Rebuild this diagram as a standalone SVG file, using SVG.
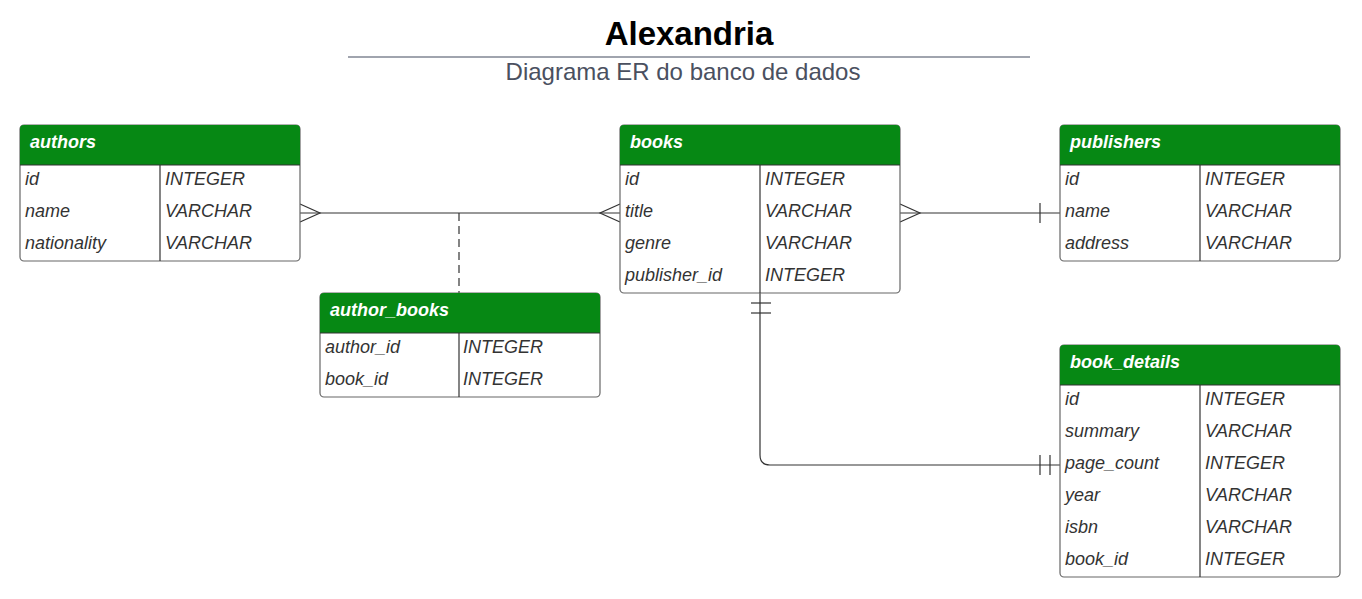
<svg xmlns="http://www.w3.org/2000/svg" width="1362" height="599" viewBox="0 0 1362 599">
<style>
.title{font-family:"Liberation Sans",Arial,sans-serif;font-size:33px;font-weight:bold;fill:#000;text-anchor:middle}
.sub{font-family:"Liberation Sans",Arial,sans-serif;font-size:24px;fill:#4a5060;text-anchor:middle}
.box{fill:#fff;stroke:#666;stroke-width:1.2}
.hdr{fill:#068814}
.hline{stroke:#333;stroke-width:1.2}
.ht{font-family:"Liberation Sans",Arial,sans-serif;font-size:18px;font-weight:bold;font-style:italic;fill:#fff}
.ft{font-family:"Liberation Sans",Arial,sans-serif;font-size:18px;font-style:italic;fill:#333}
.conn{fill:none;stroke:#333;stroke-width:1.2}
</style>
<rect width="1362" height="599" fill="#fff"/>
<text class="title" x="689" y="45">Alexandria</text>
<line x1="348" y1="57" x2="1030" y2="57" stroke="#a0a4ae" stroke-width="2"/>
<text class="sub" x="683" y="80">Diagrama ER do banco de dados</text>

<g id="connectors">
<line class="conn" x1="300" y1="213" x2="620" y2="213"/>
<path class="conn" d="M300,204 L320,213 L300,222"/>
<path class="conn" d="M620,204 L600,213 L620,222"/>
<line class="conn" x1="459" y1="213" x2="459" y2="293" stroke-dasharray="8,5"/>
<line class="conn" x1="900" y1="213" x2="1060" y2="213"/>
<path class="conn" d="M900,204 L920,213 L900,222"/>
<line class="conn" x1="1040" y1="203" x2="1040" y2="223"/>
<path class="conn" d="M760,293 L760,455 Q760,465 770,465 L1060,465"/>
<line class="conn" x1="751" y1="303" x2="771" y2="303"/>
<line class="conn" x1="751" y1="313" x2="771" y2="313"/>
<line class="conn" x1="1040" y1="455" x2="1040" y2="475"/>
<line class="conn" x1="1050" y1="455" x2="1050" y2="475"/>
</g>

<g id="authors">
<rect class="box" x="20" y="125" width="280" height="136" rx="4"/>
<path class="hdr" d="M24,125 H296 A4,4 0 0 1 300,129 V165 H20 V129 A4,4 0 0 1 24,125 Z"/>
<line class="hline" x1="20" y1="165" x2="300" y2="165"/>
<line class="hline" x1="160" y1="165" x2="160" y2="261"/>
<text class="ht" x="30" y="148">authors</text>
<text class="ft" x="25" y="185">id</text><text class="ft" x="165" y="185">INTEGER</text>
<text class="ft" x="25" y="217">name</text><text class="ft" x="165" y="217">VARCHAR</text>
<text class="ft" x="25" y="249">nationality</text><text class="ft" x="165" y="249">VARCHAR</text>
</g>

<g id="books">
<rect class="box" x="620" y="125" width="280" height="168" rx="4"/>
<path class="hdr" d="M624,125 H896 A4,4 0 0 1 900,129 V165 H620 V129 A4,4 0 0 1 624,125 Z"/>
<line class="hline" x1="620" y1="165" x2="900" y2="165"/>
<line class="hline" x1="760" y1="165" x2="760" y2="293"/>
<text class="ht" x="630" y="148">books</text>
<text class="ft" x="625" y="185">id</text><text class="ft" x="765" y="185">INTEGER</text>
<text class="ft" x="625" y="217">title</text><text class="ft" x="765" y="217">VARCHAR</text>
<text class="ft" x="625" y="249">genre</text><text class="ft" x="765" y="249">VARCHAR</text>
<text class="ft" x="625" y="281">publisher_id</text><text class="ft" x="765" y="281">INTEGER</text>
</g>

<g id="publishers">
<rect class="box" x="1060" y="125" width="280" height="136" rx="4"/>
<path class="hdr" d="M1064,125 H1336 A4,4 0 0 1 1340,129 V165 H1060 V129 A4,4 0 0 1 1064,125 Z"/>
<line class="hline" x1="1060" y1="165" x2="1340" y2="165"/>
<line class="hline" x1="1200" y1="165" x2="1200" y2="261"/>
<text class="ht" x="1070" y="148">publishers</text>
<text class="ft" x="1065" y="185">id</text><text class="ft" x="1205" y="185">INTEGER</text>
<text class="ft" x="1065" y="217">name</text><text class="ft" x="1205" y="217">VARCHAR</text>
<text class="ft" x="1065" y="249">address</text><text class="ft" x="1205" y="249">VARCHAR</text>
</g>

<g id="author_books">
<rect class="box" x="320" y="293" width="280" height="104" rx="4"/>
<path class="hdr" d="M324,293 H596 A4,4 0 0 1 600,297 V333 H320 V297 A4,4 0 0 1 324,293 Z"/>
<line class="hline" x1="320" y1="333" x2="600" y2="333"/>
<line class="hline" x1="459" y1="333" x2="459" y2="397"/>
<text class="ht" x="330" y="316">author_books</text>
<text class="ft" x="325" y="353">author_id</text><text class="ft" x="463" y="353">INTEGER</text>
<text class="ft" x="325" y="385">book_id</text><text class="ft" x="463" y="385">INTEGER</text>
</g>

<g id="book_details">
<rect class="box" x="1060" y="345" width="280" height="232" rx="4"/>
<path class="hdr" d="M1064,345 H1336 A4,4 0 0 1 1340,349 V385 H1060 V349 A4,4 0 0 1 1064,345 Z"/>
<line class="hline" x1="1060" y1="385" x2="1340" y2="385"/>
<line class="hline" x1="1200" y1="385" x2="1200" y2="577"/>
<text class="ht" x="1070" y="368">book_details</text>
<text class="ft" x="1065" y="405">id</text><text class="ft" x="1205" y="405">INTEGER</text>
<text class="ft" x="1065" y="437">summary</text><text class="ft" x="1205" y="437">VARCHAR</text>
<text class="ft" x="1065" y="469">page_count</text><text class="ft" x="1205" y="469">INTEGER</text>
<text class="ft" x="1065" y="501">year</text><text class="ft" x="1205" y="501">VARCHAR</text>
<text class="ft" x="1065" y="533">isbn</text><text class="ft" x="1205" y="533">VARCHAR</text>
<text class="ft" x="1065" y="565">book_id</text><text class="ft" x="1205" y="565">INTEGER</text>
</g>
</svg>
